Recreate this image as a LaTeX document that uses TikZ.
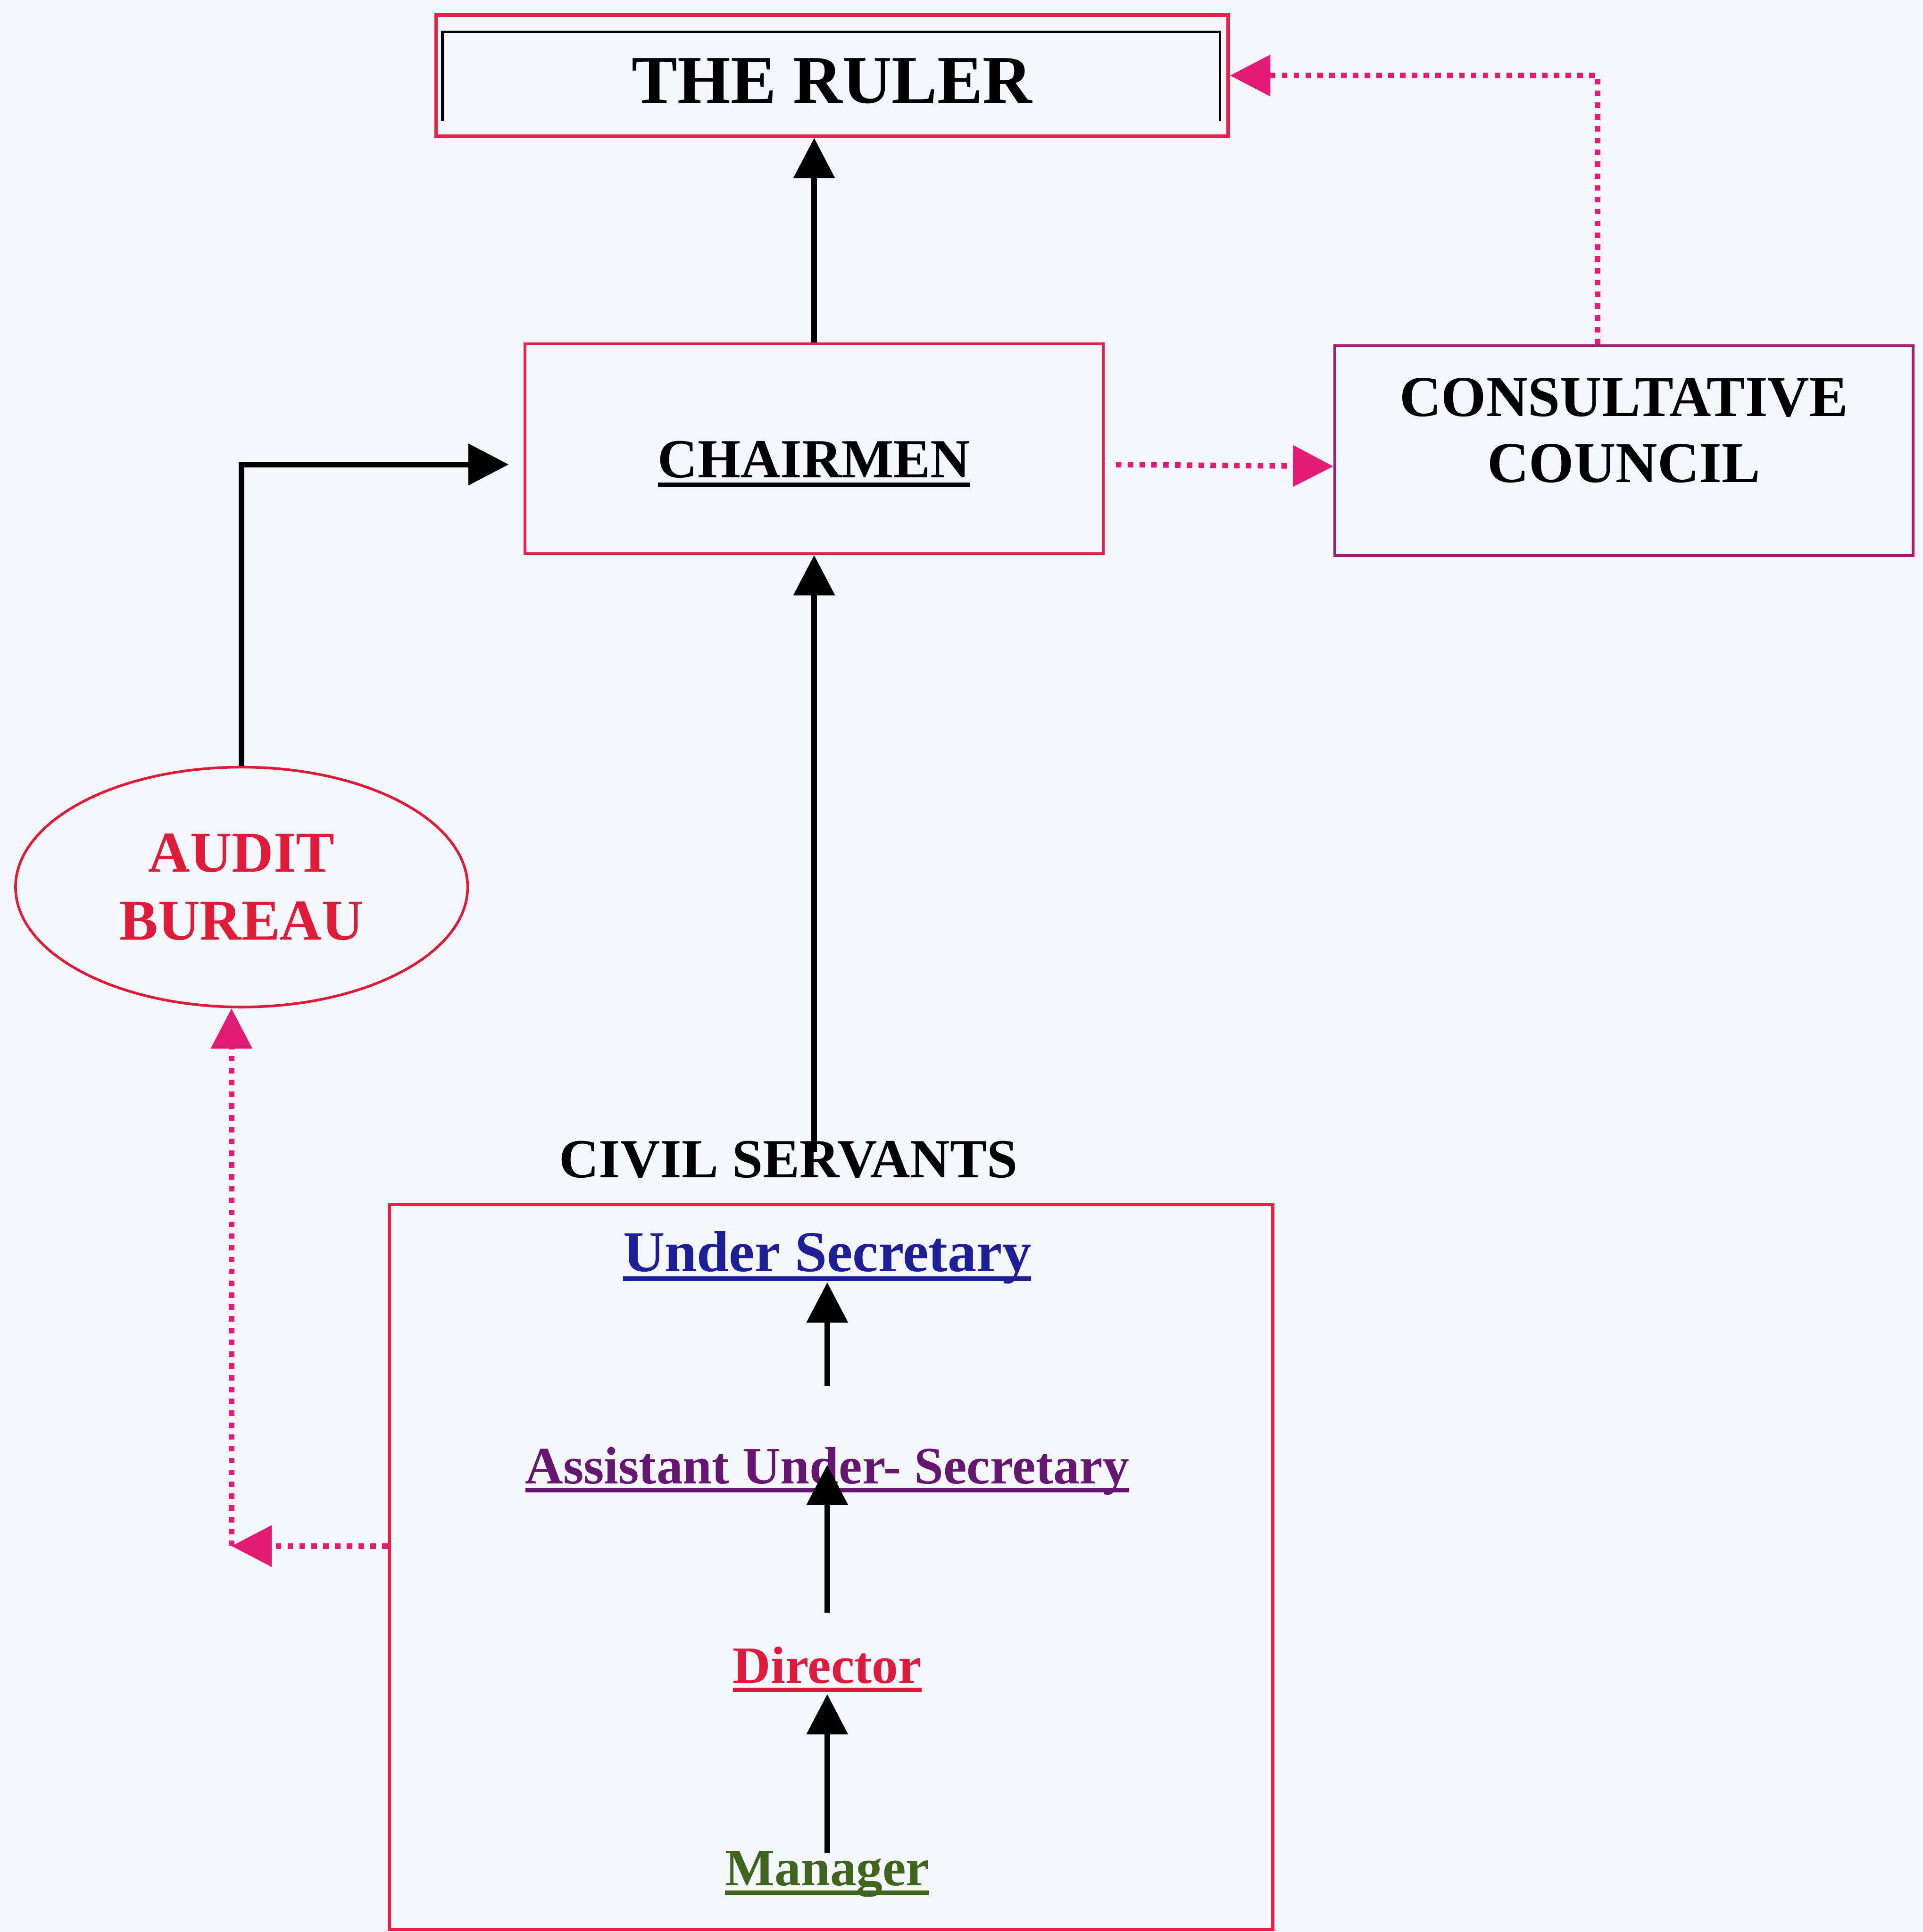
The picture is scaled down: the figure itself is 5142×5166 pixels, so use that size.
\documentclass[tikz,border=0pt]{standalone}
\usepackage{fontspec}
\setmainfont{Liberation Serif}
\usetikzlibrary{shapes.geometric, arrows.meta}

\definecolor{bgcol}{RGB}{244,246,252}
\definecolor{boxred}{RGB}{230,32,72}
\definecolor{councilpurple}{RGB}{160,30,110}
\definecolor{auditred}{RGB}{222,28,58}
\definecolor{dotpink}{RGB}{226,28,118}
\definecolor{usblue}{RGB}{30,30,150}
\definecolor{auspurple}{RGB}{100,22,112}
\definecolor{dirred}{RGB}{222,26,62}
\definecolor{mgrgreen}{RGB}{62,100,30}

\newcommand{\thickul}[1]{\setbox0=\hbox{#1}\rlap{\rule[-0.17em]{\wd0}{0.08em}}\box0}

\begin{document}
\begin{tikzpicture}[x=0.005cm, y=-0.005cm, >={Triangle[length=0.54cm, width=0.54cm]},
  box/.style={draw, line width=1pt, minimum width=7.74cm, minimum height=2.81cm, font=\bfseries\fontsize{21}{25}\selectfont},
  post/.style={font=\bfseries\fontsize{20}{24}\selectfont, inner sep=1pt, text height=0.85em, text depth=0.3em},
  arrow/.style={->, line width=2.2pt},
  dotarrow/.style={->, draw=dotpink, line width=2.1pt, dash pattern=on 2.1pt off 2.4pt}]

  \fill[bgcol] (0,0) rectangle (5142,5166);

  % Top row
  \node[box, draw=boxred, line width=1.4pt, minimum width=10.6cm, minimum height=1.62cm, text height=20.8pt, text depth=0pt, font=\bfseries\fontsize{26}{30}\selectfont] (Ruler) at (2225,202) {THE RULER};
  \draw[line width=1pt] ([shift={(22,-45)}]Ruler.south west) |- ([shift={(-27,50)}]Ruler.north east) -- ([shift={(-27,-45)}]Ruler.south east);

  % Second row
  \node[box, draw=boxred, text height=26pt, text depth=4pt] (Chair) at (2177,1200) {\thickul{CHAIRMEN}};
  \node[box, draw=councilpurple, label={[align=center, yshift=0.27cm, font=\bfseries\fontsize{22}{25}\selectfont]center:CONSULTATIVE\\COUNCIL}] (Council) at (4342,1205) {};

  % Audit
  \node[ellipse, draw=auditred, line width=1pt, minimum width=6.05cm, minimum height=3.21cm, text=auditred, align=center, font=\bfseries\fontsize{22}{26}\selectfont] (Audit) at (646,2372) {AUDIT\\BUREAU};

  % Civil servants
  \node[post, font=\bfseries\fontsize{21}{25}\selectfont] (Civil) at (2108,3129) {CIVIL SERVANTS};
  \node[draw=boxred, line width=1.3pt, minimum width=11.82cm, minimum height=9.7cm] (Staff) at (2222,4190) {};
  \node[post, text=usblue, font=\bfseries\fontsize{22}{26}\selectfont] (US) at (2212,3380) {\thickul{Under Secretary}};
  \node[post, text=auspurple, below of=US, node distance=2.84cm] (AUS) {\thickul{Assistant Under- Secretary}};
  \node[post, text=dirred, below of=AUS, node distance=2.67cm] (Dir) {\thickul{Director}};
  \node[post, text=mgrgreen, below of=Dir, node distance=2.71cm] (Mgr) {\thickul{Manager}};
  \node[coordinate] (J1) at (619,4134) {};

  % Solid arrows
  \draw[arrow] (Chair.north) -- (Chair.north |- Ruler.south);
  \draw[arrow] (Chair.south |- Civil.north) -- (Chair.south);
  \draw[arrow, shorten >=0.2cm] (Audit.north) |- ([yshift=-0.21cm]Chair.west);
  \draw[arrow] ([yshift=0.96cm]AUS.north) -- (US.south);
  \draw[arrow] ([yshift=0.6cm]Dir.north) -- ([yshift=0.4cm]AUS.south);
  \draw[arrow, shorten <=0.1cm] (Mgr.north) -- (Dir.south);

  % Dotted arrows
  \draw[dotarrow, shorten <=0.15cm] ([yshift=-0.21cm]Chair.east) -- ([yshift=-0.21cm]Council.west);
  \draw[dotarrow] ([xshift=-0.35cm]Council.north) |- (Ruler.east);
  \draw[dotarrow] (Staff.west |- J1) -- (J1);
  \draw[dotarrow] (J1) -- (J1 |- Audit.south);

\end{tikzpicture}
\end{document}
